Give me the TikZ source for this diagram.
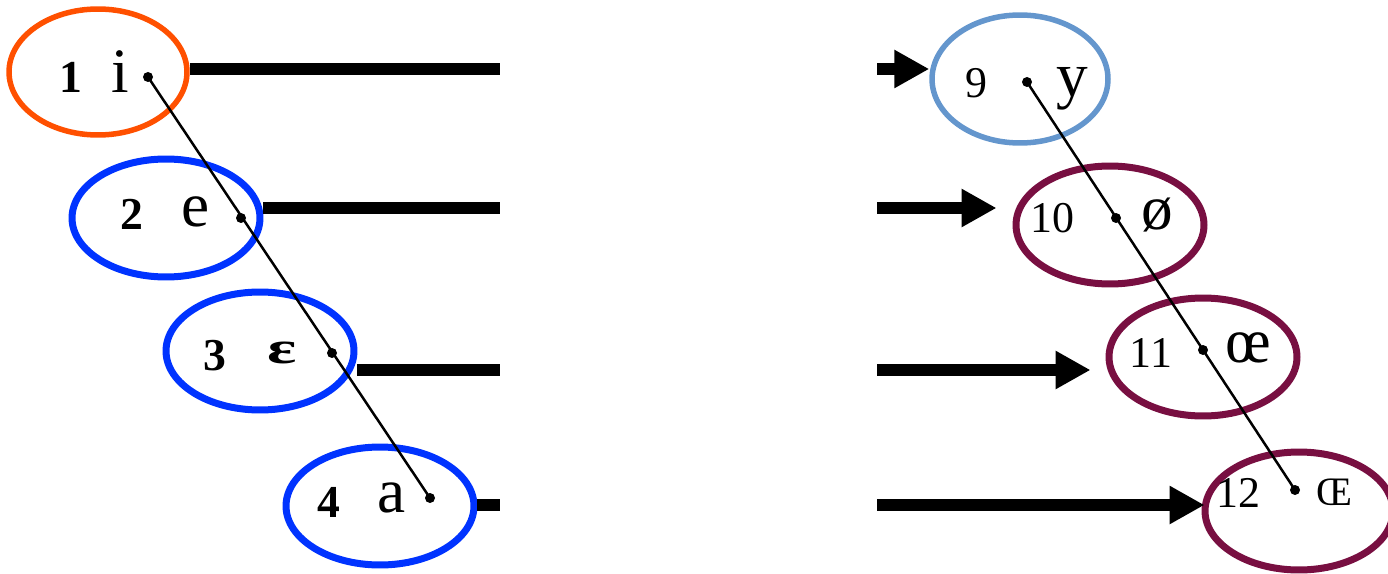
\documentclass[tikz,border=0pt]{standalone}
\usepackage{fontspec}
\setmainfont{Liberation Serif}
\usetikzlibrary{shapes.geometric}
\usetikzlibrary{arrows.meta}
\definecolor{ringorange}{RGB}{255,80,0}
\definecolor{ringblue}{RGB}{0,51,255}
\definecolor{ringsky}{RGB}{100,150,205}
\definecolor{ringwine}{RGB}{120,15,65}
\def\ringwidth{0.14cm}
\def\barwidth{0.23cm}
\tikzset{ring/.style={ellipse, draw=#1, line width=\ringwidth, inner sep=0pt,
    minimum width=3.76cm, minimum height=2.36cm}}
\tikzset{point/.style={circle, fill=black, inner sep=0pt, minimum size=0.2cm}}
\tikzset{num/.style={inner sep=0pt, anchor=base, font=\fontsize{26}{26}\selectfont\bfseries}}
\tikzset{plainnum/.style={inner sep=0pt, anchor=base, font=\fontsize{25}{25}\selectfont}}
\tikzset{sym/.style={inner sep=0pt, anchor=base, font=\fontsize{36}{36}\selectfont}}
\tikzset{bar/.style={line width=\barwidth}}
\tikzset{push/.style={line width=\barwidth, -{Triangle[length=0.7cm, width=0.72cm]}}}
\tikzset{chain/.style={line width=0.05cm}}

\begin{document}
\begin{tikzpicture}[x=0.02cm, y=-0.02cm]
\useasboundingbox (0, 0) rectangle (1388, 574);

% left column
\node [ring=ringorange, minimum width=3.56cm, minimum height=2.52cm, line width=0.11cm] (e1) at (98, 72) {};
\node [ring=ringblue] (e2) at (166, 218) {};
\node [ring=ringblue] (e3) at (260, 351) {};
\node [ring=ringblue] (e4) at (380, 506) {};

\node [point] (d1) at (148, 77) {};
\node [point] (d2) at (241, 218) {};
\node [point] (d3) at (332, 353) {};
\node [point] (d4) at (430, 498) {};

\node [num] (n1) at (71, 93) {1};
\node [num] (n2) at (132, 229) {2};
\node [num] (n3) at (215, 370) {3};
\node [num] (n4) at (329, 517) {4};
\node [sym] (s1) at (120, 93) {i};
\node [sym] (s2) at (196, 226) {e};
\node [sym, font=\fontsize{26}{26}\selectfont\bfseries] (s3) at (282, 363) {\scalebox{1.5}[1]{ε}};
\node [sym] (s4) at (392, 512) {a};

\coordinate (l1) at (500, 69);
\coordinate (l2) at (500, 208);
\coordinate (l3) at (500, 370);
\coordinate (l4) at (500, 505);

% right column
\node [ring=ringsky, minimum width=3.52cm, minimum height=2.56cm, line width=0.11cm] (e9) at (1020, 79) {};
\node [ring=ringwine] (e10) at (1110, 225) {};
\node [ring=ringwine] (e11) at (1203, 357) {};
\node [ring=ringwine] (e12) at (1299, 511) {};

\node [point] (d9) at (1027, 82) {};
\node [point] (d10) at (1116, 218) {};
\node [point] (d11) at (1203, 350) {};
\node [point] (d12) at (1295, 490) {};

\node [plainnum] (n9) at (976, 98) {9};
\node [plainnum] (n10) at (1052, 233) {10};
\node [plainnum] (n11) at (1151, 367) {11};
\node [plainnum] (n12) at (1238, 507) {12};
\node [sym] (s9) at (1072, 97) {y};
\node [sym] (s10) at (1157, 229) {ø};
\node [sym] (s11) at (1248, 362) {œ};
\node [sym, font=\fontsize{23}{23}\selectfont] (s12) at (1334, 505) {Œ};

\coordinate (a1) at (877, 69);
\coordinate (a2) at (877, 208);
\coordinate (a3) at (877, 370);
\coordinate (a4) at (877, 505);

\draw [chain] (d1.center) -- (d4.center);
\draw [chain] (d9.center) -- (d12.center);

\draw [bar] (l1 -| e1.east) -- (l1);
\draw [bar] (l2 -| e2.east) -- (l2);
\draw [bar] (l3 -| e3.east) -- (l3);
\draw [bar] (l4 -| e4.east) -- (l4);

\draw [push] (a1) -- (a1 -| e9.west);
\draw [push, shorten >=0.32cm] (a2) -- (a2 -| e10.west);
\draw [push, shorten >=0.3cm] (a3) -- (a3 -| e11.west);
\draw [push, shorten >=-0.06cm] (a4) -- (a4 -| e12.west);

\end{tikzpicture}
\end{document}
